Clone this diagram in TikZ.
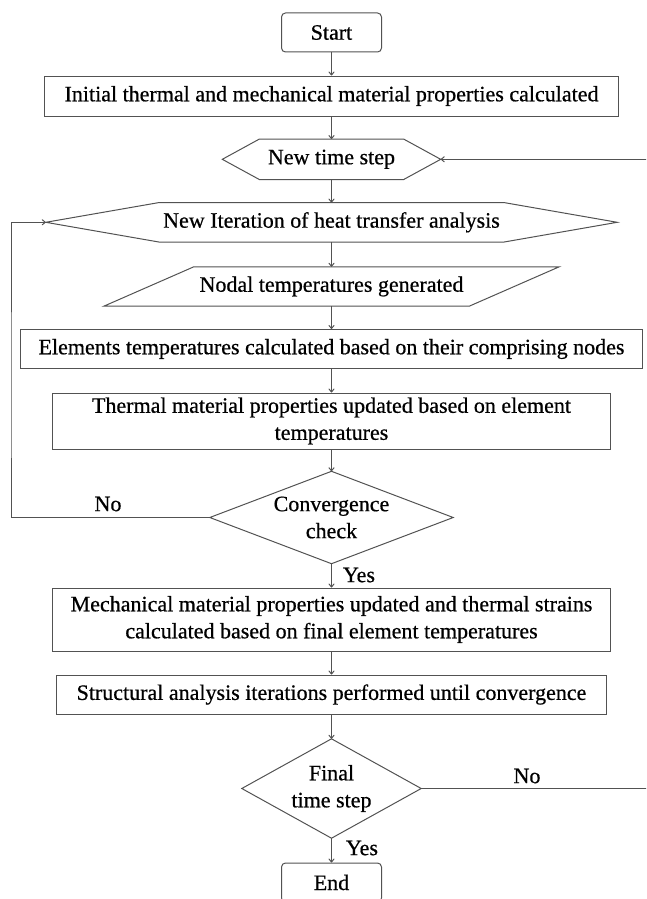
\documentclass[tikz,border=0pt]{standalone}
\usepackage{fontspec}
\setmainfont{Liberation Serif}
\newfontfamily\heavyserif{Liberation Serif}[FakeBold=0.6]
\usetikzlibrary{arrows.meta}
\begin{document}
\begin{tikzpicture}[x=1pt,y=-1pt,
  line/.style={draw=black!68, line width=1pt},
  txt/.style={font=\heavyserif\fontsize{22}{27}\selectfont, text=black},
  box/.style={line, txt, rectangle, align=center, inner sep=0pt},
  ghost/.style={txt, rectangle, align=center, inner sep=0pt},
  arr/.style={line, -{To[length=4pt,width=6pt]}},
  lbl/.style={txt, inner sep=0pt}
]
\useasboundingbox (0,0) rectangle (646,899);
\clip (0,0) rectangle (646,899);

\node[box, rounded corners=4pt, minimum width=100pt, minimum height=39pt] (start) at (331.5,32.5) {Start};
\node[box, minimum width=574pt, minimum height=40pt] (init) at (331.5,96) {Initial thermal and mechanical material properties calculated};

\node[ghost, minimum width=218pt, minimum height=40pt] (nts) at (331.5,159.3) {New time step};
\draw[line] (nts.west) -- ([xshift=37pt]nts.north west) -- ([xshift=-37pt]nts.north east) -- (nts.east) -- ([xshift=-37pt]nts.south east) -- ([xshift=37pt]nts.south west) -- cycle;

\node[ghost, minimum width=571pt, minimum height=39pt] (iter) at (331.5,222.3) {New Iteration of heat transfer analysis};
\draw[line] (iter.west) -- ([xshift=113pt]iter.north west) -- ([xshift=-113pt]iter.north east) -- (iter.east) -- ([xshift=-113pt]iter.south east) -- ([xshift=113pt]iter.south west) -- cycle;

\node[ghost, minimum width=455pt, minimum height=39pt] (nodal) at (331.5,286.5) {Nodal temperatures generated};
\draw[line] ([xshift=90pt]nodal.north west) -- (nodal.north east) -- ([xshift=-90pt]nodal.south east) -- (nodal.south west) -- cycle;

\node[box, minimum width=622pt, minimum height=39pt] (elem) at (331.5,349) {Elements temperatures calculated based on their comprising nodes};
\node[box, minimum width=558pt, minimum height=56pt] (therm) at (331.5,421) {Thermal material properties updated based on element\\temperatures};

\node[ghost, minimum width=243pt, minimum height=92pt] (conv) at (331.5,517.5) {Convergence\\check};
\draw[line] (conv.north) -- (conv.east) -- (conv.south) -- (conv.west) -- cycle;

\node[box, minimum width=558pt, minimum height=63pt] (mech) at (331.5,619.5) {Mechanical material properties updated and thermal strains\\calculated based on final element temperatures};
\node[box, minimum width=550pt, minimum height=39pt] (struct) at (331.5,694.5) {Structural analysis iterations performed until convergence};

\node[ghost, minimum width=179pt, minimum height=99pt] (final) at (331.5,788.5) {Final\\time step};
\draw[line] (final.north) -- (final.east) -- (final.south) -- (final.west) -- cycle;

\node[box, rounded corners=4pt, minimum width=100pt, minimum height=39pt] (end) at (331.5,882.5) {End};

\draw[arr] (start) -- (init);
\draw[arr] (init) -- (nts);
\draw[arr] (nts) -- (iter);
\draw[arr] (iter) -- (nodal);
\draw[arr] (nodal) -- (elem);
\draw[arr] (elem) -- (therm);
\draw[arr] (therm) -- (conv.north);
\draw[arr] (conv.south) -- (mech);
\draw[arr] (mech) -- (struct);
\draw[arr] (struct) -- (final.north);
\draw[arr] (final.south) -- (end);

\coordinate (L) at (11,400);
\coordinate (R) at (647.5,400);
\draw[arr] (conv.west) -| (L) |- (iter.west);
\draw[arr] (final.east) -| (R) |- (nts.east);

\node[lbl] (no1) at (108,504) {No};
\node[lbl] (yes1) at (359,575) {Yes};
\node[lbl] (no2) at (527,776) {No};
\node[lbl] (yes2) at (362,848) {Yes};
\end{tikzpicture}
\end{document}
